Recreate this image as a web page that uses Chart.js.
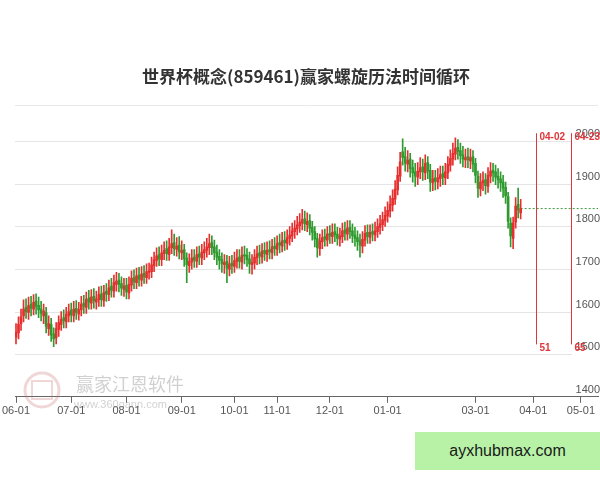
<!DOCTYPE html>
<html>
<head>
<meta charset="utf-8">
<script src="https://cdn.jsdelivr.net/npm/chart.js@4.4.1/dist/chart.umd.min.js"></script>
<style>
  html, body { margin: 0; padding: 0; background: #fff; }
  #wrap { position: relative; width: 600px; height: 480px; }
  #ad {
    position: absolute; left: 415px; top: 432px; width: 185px; height: 38px;
    background: #b7f2a6; color: #1a1a1a;
    font: 16px "Liberation Sans", Arial, sans-serif;
    display: flex; align-items: center; justify-content: center;
  }
</style>
</head>
<body>
<div id="wrap">
  <canvas id="mainChart" width="600" height="480"></canvas>
  <div id="ad">ayxhubmax.com</div>
</div>
<script>
// -----------------------------
// DATA (one candle per trading day, index 0 = 06-01)
// -----------------------------
const titleText = '世界杯概念(859461)赢家螺旋历法时间循环';

const opens = [
  1540,1550,1572,1590,1610,1598,1618,1606,1625,1615,
  1606,1590,1598,1560,1570,1548,1538,1558,1570,1586,
  1576,1590,1604,1590,1608,1594,1604,1620,1610,1632,
  1620,1636,1622,1628,1642,1626,1648,1640,1660,1648,
  1664,1674,1666,1652,1662,1644,1662,1680,1668,1686,
  1674,1690,1680,1692,1694,1708,1720,1734,1722,1736,
  1748,1734,1750,1762,1746,1756,1738,1746,1726,1708,
  1716,1728,1718,1736,1726,1738,1744,1750,1762,1752,
  1740,1730,1722,1710,1718,1700,1714,1706,1718,1728,
  1716,1734,1732,1724,1710,1714,1726,1738,1728,1744,
  1734,1746,1738,1754,1746,1762,1754,1768,1760,1772,
  1778,1788,1794,1802,1808,1818,1804,1814,1798,1788,
  1772,1748,1764,1776,1768,1784,1776,1788,1782,1770,
  1776,1792,1782,1798,1790,1780,1774,1766,1754,1768,
  1786,1774,1788,1780,1788,1798,1804,1814,1824,1836,
  1850,1864,1886,1918,1975,1964,1946,1958,1938,1928,
  1916,1928,1940,1926,1950,1932,1902,1914,1904,1912,
  1924,1914,1926,1944,1958,1970,1986,1978,1968,1956,
  1964,1954,1964,1948,1918,1888,1902,1910,1894,1918,
  1932,1928,1918,1912,1904,1892,1870,1808,1772,1810,
  1852,1832
];

const highs = [
  1572,1588,1606,1628,1630,1634,1636,1640,1642,1634,
  1624,1618,1610,1590,1584,1562,1574,1590,1600,1604,
  1610,1618,1620,1624,1626,1622,1636,1638,1646,1650,
  1652,1654,1648,1658,1660,1662,1666,1674,1678,1686,
  1692,1690,1682,1678,1678,1682,1696,1698,1702,1704,
  1706,1708,1712,1714,1728,1740,1750,1752,1756,1764,
  1766,1772,1792,1782,1774,1776,1766,1758,1738,1736,
  1746,1746,1752,1754,1758,1764,1772,1782,1778,1768,
  1756,1746,1738,1734,1732,1730,1732,1740,1746,1746,
  1752,1754,1748,1740,1734,1746,1754,1756,1760,1762,
  1764,1766,1770,1774,1778,1782,1786,1788,1792,1800,
  1808,1814,1824,1830,1840,1836,1832,1828,1812,1800,
  1784,1782,1792,1794,1800,1802,1806,1806,1798,1796,
  1808,1810,1814,1814,1806,1798,1790,1782,1788,1802,
  1804,1804,1806,1810,1818,1826,1834,1846,1858,1872,
  1886,1908,1940,1974,2006,1986,1978,1972,1956,1948,
  1950,1962,1958,1968,1964,1946,1932,1932,1936,1942,
  1942,1948,1964,1980,1996,2008,2004,1996,1988,1982,
  1984,1982,1978,1960,1930,1924,1928,1924,1938,1950,
  1948,1944,1936,1928,1920,1904,1880,1820,1822,1868,
  1890,1864
];

const lows = [
  1524,1536,1556,1576,1584,1582,1590,1592,1594,1586,
  1578,1572,1550,1544,1530,1518,1524,1542,1556,1562,
  1562,1576,1576,1576,1582,1580,1590,1596,1596,1606,
  1606,1608,1606,1612,1612,1612,1624,1626,1634,1634,
  1648,1646,1638,1636,1630,1630,1648,1654,1654,1660,
  1660,1666,1666,1676,1680,1694,1706,1708,1708,1722,
  1720,1720,1736,1732,1730,1724,1722,1706,1668,1692,
  1700,1704,1704,1710,1710,1722,1728,1734,1734,1722,
  1710,1700,1692,1690,1668,1684,1690,1692,1702,1702,
  1700,1712,1706,1690,1688,1700,1710,1712,1714,1720,
  1718,1724,1724,1732,1732,1738,1740,1744,1746,1756,
  1764,1772,1780,1786,1792,1790,1788,1780,1768,1752,
  1728,1732,1748,1754,1754,1760,1760,1764,1756,1754,
  1762,1768,1768,1772,1762,1754,1744,1728,1738,1754,
  1760,1760,1766,1766,1774,1782,1790,1800,1810,1822,
  1836,1852,1874,1906,1944,1930,1928,1916,1904,1894,
  1898,1912,1908,1910,1912,1882,1884,1886,1888,1894,
  1898,1898,1912,1930,1944,1956,1958,1948,1940,1938,
  1938,1936,1928,1902,1868,1872,1884,1876,1880,1902,
  1906,1898,1890,1882,1868,1854,1796,1752,1748,1796,
  1820,1818
];

const closes = [
  1552,1570,1588,1606,1600,1614,1608,1622,1612,1604,
  1596,1601,1566,1572,1545,1536,1560,1574,1582,1578,
  1594,1600,1592,1606,1598,1605,1618,1612,1629,1622,
  1634,1625,1630,1640,1628,1645,1641,1656,1650,1668,
  1672,1664,1655,1660,1646,1664,1678,1670,1684,1676,
  1688,1682,1694,1696,1710,1722,1731,1724,1738,1744,
  1736,1752,1760,1748,1754,1740,1744,1724,1710,1718,
  1726,1720,1734,1728,1740,1746,1752,1760,1750,1738,
  1728,1720,1712,1716,1702,1712,1708,1720,1726,1718,
  1732,1730,1722,1712,1716,1728,1736,1730,1742,1736,
  1744,1740,1752,1748,1760,1756,1766,1762,1774,1780,
  1790,1796,1804,1810,1816,1806,1812,1796,1786,1770,
  1750,1766,1774,1770,1782,1778,1786,1780,1772,1778,
  1790,1784,1796,1788,1778,1772,1764,1756,1770,1784,
  1776,1786,1782,1790,1800,1806,1816,1826,1838,1852,
  1866,1888,1920,1952,1962,1948,1956,1936,1926,1918,
  1930,1938,1928,1948,1930,1904,1912,1906,1914,1922,
  1916,1928,1946,1960,1972,1984,1976,1966,1958,1962,
  1956,1962,1946,1920,1890,1904,1908,1896,1920,1930,
  1926,1916,1910,1902,1890,1872,1812,1778,1808,1848,
  1838,1842
];

// x axis: trading-day index of each month label
const monthTickIdx = [0, 22, 44, 66, 87, 104, 125, 148, 183, 206, 225];
const monthTickLabels = ['06-01', '07-01', '08-01', '09-01', '10-01', '11-01',
  '12-01', '01-01', '03-01', '04-01', '05-01'];

// spiral calendar time cycle marks
const cycleIdx = [207, 221];
const cycleDates = ['04-02', '04-23'];
const cycleCounts = ['51', '65'];
const cycleTop = 2019;
const cycleBottom = 1523;

const yMin = 1400;
const yMax = 2050;
const xMin = -0.4;
const xMax = 231.8;

// -----------------------------
// COLORS
// -----------------------------
const UP = '#e5302f';
const DOWN = '#2f9a2f';
const CYCLE = '#e0353a';
const candleColors = closes.map((c, i) => (c >= opens[i] ? UP : DOWN));
const lastIdx = closes.length - 1;
const lastClose = closes[lastIdx];

// -----------------------------
// DRAWING PLUGIN (title, grid, watermark, cycle lines)
// -----------------------------
const overlayPlugin = {
  id: 'overlay',
  beforeDatasetsDraw(chart) {
    const { ctx, chartArea, scales: { y } } = chart;
    ctx.save();

    // title + separator
    ctx.fillStyle = '#333';
    ctx.font = 'bold 17px "Noto Sans CJK SC", sans-serif';
    ctx.textAlign = 'center';
    ctx.textBaseline = 'middle';
    ctx.fillText(titleText, 306, 77);
    ctx.strokeStyle = '#e8e8e8';
    ctx.lineWidth = 1;
    ctx.beginPath();
    ctx.moveTo(chartArea.left, 105.5);
    ctx.lineTo(chartArea.right, 105.5);
    ctx.stroke();

    // horizontal grid lines
    ctx.strokeStyle = '#e4e4e4';
    y.ticks.forEach(t => {
      if (t.value <= yMin) return;
      const py = Math.round(y.getPixelForValue(t.value)) + 0.5;
      ctx.beginPath();
      ctx.moveTo(chartArea.left, py);
      ctx.lineTo(chartArea.right - 26, py);
      ctx.stroke();
    });

    // watermark
    ctx.strokeStyle = 'rgba(200,110,110,0.28)';
    ctx.lineWidth = 3;
    ctx.beginPath();
    ctx.arc(42, 390, 17, 0, Math.PI * 2);
    ctx.stroke();
    ctx.lineWidth = 2;
    ctx.strokeRect(32, 381, 20, 18);
    ctx.fillStyle = 'rgba(120,120,120,0.35)';
    ctx.font = '18px "Noto Sans CJK SC", sans-serif';
    ctx.textAlign = 'left';
    ctx.fillText('赢家江恩软件', 76, 384);
    ctx.fillStyle = 'rgba(140,140,140,0.4)';
    ctx.font = '11px "Liberation Sans", Arial, sans-serif';
    ctx.fillText('www.360gann.com', 74, 405);

    ctx.restore();
  },
  afterDatasetsDraw(chart) {
    const { ctx, scales: { x, y } } = chart;
    ctx.save();
    const top = y.getPixelForValue(cycleTop);
    const bottom = y.getPixelForValue(cycleBottom);
    cycleIdx.forEach((idx, k) => {
      const px = Math.round(x.getPixelForValue(idx)) + 0.5;
      ctx.strokeStyle = CYCLE;
      ctx.lineWidth = 1;
      ctx.setLineDash([]);
      ctx.beginPath();
      ctx.moveTo(px, top);
      ctx.lineTo(px, bottom);
      ctx.stroke();
      ctx.fillStyle = CYCLE;
      ctx.font = 'bold 10px "Liberation Sans", Arial, sans-serif';
      ctx.textAlign = 'left';
      ctx.textBaseline = 'middle';
      ctx.fillText(cycleDates[k], px + 3, top + 4);
      ctx.fillText(cycleCounts[k], px + 3, bottom + 4);
    });
    ctx.restore();
  }
};

// -----------------------------
// CHART.JS
// -----------------------------
const ctx = document.getElementById('mainChart').getContext('2d');

new Chart(ctx, {
  type: 'bar',
  data: {
    datasets: [
      {
        label: 'wick',
        data: highs.map((h, i) => ({ x: i, y: [lows[i], h] })),
        backgroundColor: candleColors,
        barThickness: 1,
        grouped: false,
        borderWidth: 0
      },
      {
        label: 'body',
        data: opens.map((o, i) => ({ x: i, y: [o, closes[i]] })),
        backgroundColor: candleColors,
        barThickness: 2,
        minBarLength: 1,
        grouped: false,
        borderWidth: 0
      },
      {
        type: 'line',
        label: 'last',
        data: [{ x: lastIdx, y: lastClose }, { x: xMax, y: lastClose }],
        borderColor: '#3c9a3c',
        borderWidth: 1,
        borderDash: [2, 2],
        pointRadius: 0,
        fill: false
      }
    ]
  },
  options: {
    responsive: false,
    animation: false,
    devicePixelRatio: 1,
    layout: { padding: { left: 15, right: 2, top: 120, bottom: 60 } },
    plugins: {
      legend: { display: false },
      tooltip: { enabled: false },
      title: { display: false }
    },
    scales: {
      x: {
        type: 'linear',
        min: xMin,
        max: xMax,
        offset: false,
        grid: { display: true, drawOnChartArea: false, offset: false, tickLength: 6, color: '#666' },
        border: { display: true, color: '#666' },
        afterBuildTicks: axis => {
          axis.ticks = monthTickIdx.map(v => ({ value: v }));
        },
        afterFit: axis => {
          axis.paddingLeft = 0;
          axis.paddingRight = 0;
        },
        ticks: {
          autoSkip: false,
          maxRotation: 0,
          padding: 2,
          color: '#555',
          font: { family: '"Liberation Sans", Arial, sans-serif', size: 11 },
          callback: v => monthTickLabels[monthTickIdx.indexOf(v)]
        }
      },
      y: {
        position: 'right',
        min: yMin,
        max: yMax,
        grid: { display: false },
        border: { display: false },
        afterFit: axis => {
          axis.width = 0;
        },
        ticks: {
          stepSize: 100,
          includeBounds: false,
          mirror: true,
          padding: 2,
          labelOffset: -7,
          color: '#555',
          font: { family: '"Liberation Sans", Arial, sans-serif', size: 11 },
          callback: v => String(v)
        }
      }
    }
  },
  plugins: [overlayPlugin]
});
</script>
</body>
</html>
